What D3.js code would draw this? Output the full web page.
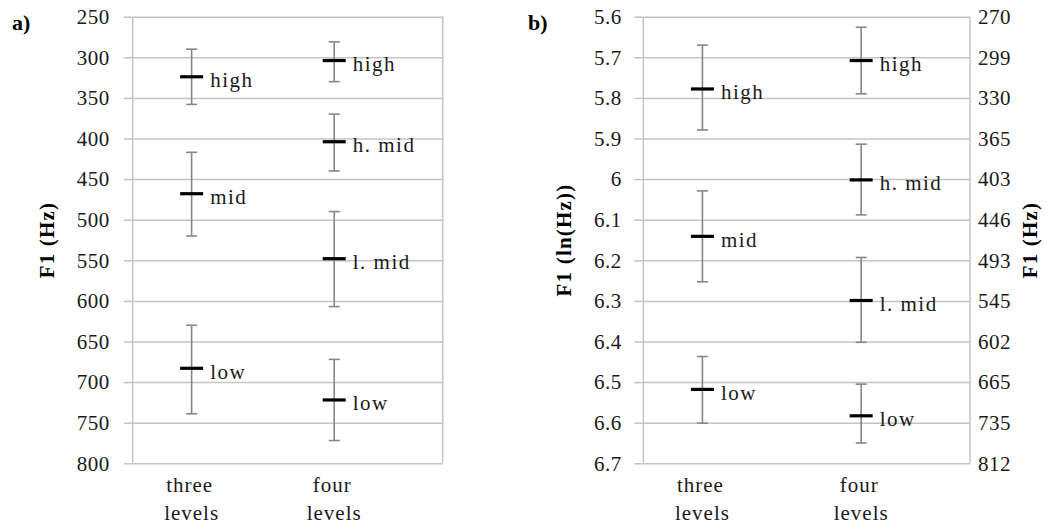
<!DOCTYPE html>
<html>
<head>
<meta charset="utf-8">
<script src="https://cdn.jsdelivr.net/npm/d3@7"></script>
<style>
  html, body { margin: 0; padding: 0; background: #fff; }
  svg { display: block; }
</style>
</head>
<body>
<svg id="chart" width="1047" height="529"></svg>
<script>
// ---------------- data ----------------
const categories = ["three levels", "four levels"];
const vowelCategory = ["three levels", "three levels", "three levels", "four levels", "four levels", "four levels", "four levels"];
const vowelLevel = ["high", "mid", "low", "high", "h. mid", "l. mid", "low"];

// panel a) F1 in Hz
const hzMean = [324, 468, 683, 304, 404, 548, 722];
const hzErrTop = [290, 417, 630, 281, 370, 490, 672];
const hzErrBottom = [358, 520, 739, 330, 440, 607, 772];
const hzTicks = [250, 300, 350, 400, 450, 500, 550, 600, 650, 700, 750, 800];

// panel b) F1 in ln(Hz)
const lnMean = [5.778, 6.141, 6.518, 5.708, 6.002, 6.299, 6.583];
const lnErrTop = [5.670, 6.029, 6.437, 5.626, 5.914, 6.193, 6.505];
const lnErrBottom = [5.879, 6.253, 6.601, 5.790, 6.088, 6.402, 6.650];
const lnTicks = [5.6, 5.7, 5.8, 5.9, 6.0, 6.1, 6.2, 6.3, 6.4, 6.5, 6.6, 6.7];
const lnTickLabels = ["5.6", "5.7", "5.8", "5.9", "6", "6.1", "6.2", "6.3", "6.4", "6.5", "6.6", "6.7"];
const hzSecondaryTickLabels = ["270", "299", "330", "365", "403", "446", "493", "545", "602", "665", "735", "812"];

// ---------------- drawing ----------------
const svg = d3.select("#chart");
const FONT = 21;
const FAMILY = "'Liberation Serif', Tinos, 'Liberation Sans', Arial, sans-serif";
const TXT = "#1a1a1a";
const GRID = "#c4c4c4";
const ERR = "#868686";
const yTop = 16.7, yBottom = 463.3;

function panel(opts) {
  const { x0, x1, domain, ticks, tickFmt, padding, mean, eTop, eBot, tickPad, title, titleX } = opts;
  const g = svg.append("g");
  const y = d3.scaleLinear().domain(domain).range([yTop, yBottom]);
  const x = d3.scalePoint().domain(categories).range([x0, x1]).padding(padding).align(0.352);
  const w = x1 - x0;

  // gridlines
  g.append("g").attr("transform", `translate(${x0},0)`)
    .call(d3.axisLeft(y).tickValues(ticks).tickSize(-w).tickFormat(""))
    .call(s => s.select(".domain").remove())
    .call(s => s.selectAll("line").attr("stroke", GRID).attr("stroke-width", 1.5));

  // left axis with outside ticks and labels
  g.append("g").attr("transform", `translate(${x0},0)`)
    .call(d3.axisLeft(y).tickValues(ticks).tickSize(9).tickPadding(tickPad).tickFormat(tickFmt))
    .attr("font-family", FAMILY).attr("font-size", FONT)
    .call(s => s.select(".domain").attr("stroke", GRID).attr("stroke-width", 1.5).attr("d", `M0,${yTop}V${yBottom}`))
    .call(s => s.selectAll("line").attr("stroke", GRID).attr("stroke-width", 1.5))
    .call(s => s.selectAll("text").attr("fill", TXT).attr("letter-spacing", 0.5));

  // right border
  g.append("line").attr("x1", x1).attr("x2", x1).attr("y1", yTop).attr("y2", yBottom)
    .attr("stroke", GRID).attr("stroke-width", 1.5);

  // error bars
  const idx = d3.range(mean.length);
  const eb = g.append("g").selectAll("g").data(idx).join("g");
  eb.append("line")
    .attr("x1", i => x(vowelCategory[i])).attr("x2", i => x(vowelCategory[i]))
    .attr("y1", i => y(eTop[i])).attr("y2", i => y(eBot[i]))
    .attr("stroke", ERR).attr("stroke-width", 1.6);
  [eTop, eBot].forEach(arr => {
    eb.append("line")
      .attr("x1", i => x(vowelCategory[i]) - 5.5).attr("x2", i => x(vowelCategory[i]) + 5.5)
      .attr("y1", i => y(arr[i])).attr("y2", i => y(arr[i]))
      .attr("stroke", ERR).attr("stroke-width", 1.6);
  });
  eb.append("line")
    .attr("x1", i => x(vowelCategory[i]) - 11.5).attr("x2", i => x(vowelCategory[i]) + 11.5)
    .attr("y1", i => y(mean[i])).attr("y2", i => y(mean[i]))
    .attr("stroke", "#000").attr("stroke-width", 3.2);
  eb.append("text")
    .attr("x", i => x(vowelCategory[i]) + 18.5)
    .attr("y", i => y(mean[i]) + 10.5)
    .attr("font-family", FAMILY).attr("fill", TXT)
    .attr("font-size", FONT).attr("letter-spacing", 1.5)
    .text(i => vowelLevel[i]);

  // category labels
  const cl = g.append("g").selectAll("text").data(categories).join("text")
    .attr("font-family", FAMILY).attr("fill", TXT)
    .attr("text-anchor", "middle").attr("font-size", FONT).attr("letter-spacing", 1);
  cl.append("tspan").attr("x", d => x(d) - 2).attr("y", 492).text(d => d.split(" ")[0]);
  cl.append("tspan").attr("x", d => x(d)).attr("y", 520).text(d => d.split(" ")[1]);

  // y title
  g.append("text")
    .attr("transform", `translate(${titleX},${(yTop + yBottom) / 2}) rotate(-90)`)
    .attr("font-family", FAMILY).attr("fill", "#000")
    .attr("text-anchor", "middle").attr("dominant-baseline", "central")
    .attr("font-size", FONT).attr("font-weight", "bold").attr("letter-spacing", 1.2)
    .text(title);

  return { g, y, x };
}

const a = panel({
  x0: 132.7, x1: 442.7, domain: [250, 800], ticks: hzTicks,
  tickFmt: d => String(d), padding: 0.587, mean: hzMean, eTop: hzErrTop, eBot: hzErrBottom,
  tickPad: 14, title: "F1 (Hz)", titleX: 47
});

const b = panel({
  x0: 643.3, x1: 970, domain: [5.6, 6.7], ticks: lnTicks,
  tickFmt: (d, i) => lnTickLabels[i], padding: 0.529, mean: lnMean, eTop: lnErrTop, eBot: lnErrBottom,
  tickPad: 12.6, title: "F1 (ln(Hz))", titleX: 564
});

// secondary right axis of panel b (Hz equivalents of ln ticks)
b.g.append("g").attr("transform", "translate(970,0)")
  .call(d3.axisRight(b.y).tickValues(lnTicks).tickSize(0).tickPadding(8).tickFormat((d, i) => hzSecondaryTickLabels[i]))
  .attr("font-family", FAMILY).attr("font-size", FONT)
  .call(s => s.select(".domain").remove())
  .call(s => s.selectAll("text").attr("fill", TXT).attr("letter-spacing", 0.5));

svg.append("text")
  .attr("transform", `translate(1030,${(yTop + yBottom) / 2}) rotate(-90)`)
  .attr("font-family", FAMILY).attr("fill", "#000")
  .attr("text-anchor", "middle").attr("dominant-baseline", "central")
  .attr("font-size", FONT).attr("font-weight", "bold").attr("letter-spacing", 1.2)
  .text("F1 (Hz)");

// panel letters
svg.append("text").attr("x", 12).attr("y", 30).attr("font-family", FAMILY).attr("fill", "#000")
  .attr("font-size", FONT + 1).attr("font-weight", "bold").text("a)");
svg.append("text").attr("x", 528).attr("y", 30).attr("font-family", FAMILY).attr("fill", "#000")
  .attr("font-size", FONT + 1).attr("font-weight", "bold").text("b)");
</script>
</body>
</html>
